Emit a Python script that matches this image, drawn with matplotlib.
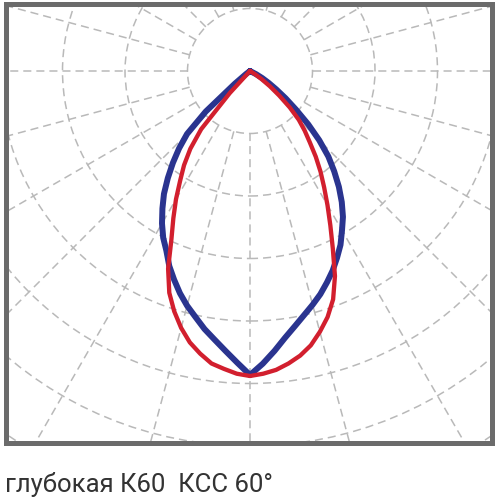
import numpy as np
import matplotlib
matplotlib.use("Agg")
import matplotlib.pyplot as plt
from matplotlib.patches import Circle

# ---- data (luminous intensity, arbitrary units; grid ring step = 62.5) ----
# angle from nadir in degrees, negative = left half, positive = right half
angles_deg = [-90, -87.5, -85, -82.5, -80, -77.5, -75, -72.5, -70, -67.5, -65, -62.5,
              -60, -57.5, -55, -52.5, -50, -47.5, -45, -42.5, -40, -37.5, -35, -32.5,
              -30, -27.5, -25, -22.5, -20, -17.5, -15, -12.5, -10, -7.5, -5, -2.5,
              0, 2.5, 5, 7.5, 10, 12.5, 15, 17.5, 20, 22.5, 25, 27.5,
              30, 32.5, 35, 37.5, 40, 42.5, 45, 47.5, 50, 52.5, 55, 57.5,
              60, 62.5, 65, 67.5, 70, 72.5, 75, 77.5, 80, 82.5, 85, 87.5, 90]
blue_values = [0, 0, 0, 0, 0, 0, 0, 0, 0, 0, 0, 0,
               0, 0, 0, 5, 20, 60, 89, 105, 120, 135, 150, 163,
               176, 188, 198, 211, 222, 233, 243, 252, 262, 271, 281, 292,
               304, 293, 281, 269, 259, 250, 242, 234, 225, 216, 206, 196,
               184, 173, 160, 146, 131, 116, 98, 79, 60, 45, 32, 22,
               14, 7, 0, 0, 0, 0, 0, 0, 0, 0, 0, 0, 0]
red_values = [0, 0, 0, 0, 0, 0, 0, 0, 0, 0, 0, 0,
              0, 0, 0, 0, 0, 0, 0, 30, 76, 98, 115, 130,
              148, 166, 186, 214, 236, 252, 266, 278, 287, 295, 299, 303,
              305, 303, 300, 295, 289, 281, 270, 258, 243, 222, 196, 174,
              155, 138, 123, 108, 93, 81, 69, 54, 38, 25, 14, 6,
              0, 0, 0, 0, 0, 0, 0, 0, 0, 0, 0, 0, 0]
ring_step = 62.5
ring_count = 8
radial_step_deg = 15
caption = "глубокая К60  КСС 60°"

plt.rcParams['lines.scale_dashes'] = False
plt.rcParams['font.family'] = ['Roboto', 'DejaVu Sans']

fig = plt.figure(figsize=(5, 5), dpi=100)
ax = fig.add_axes([0.0116, 0.1134, 0.9718, 0.8782])
ax.set_xlim(-244.2, 241.7)
ax.set_ylim(-372.3, 66.8)
ax.set_aspect('equal', adjustable='box')
ax.set_xticks([])
ax.set_yticks([])
for sp in ax.spines.values():
    sp.set_color('#6b6b6b')
    sp.set_linewidth(3.6)

grid_color = '#b9b9b9'
dash = (0, (5.8, 3.6))
for k in range(1, ring_count + 1):
    ax.add_patch(Circle((0, 0), ring_step * k, fill=False, edgecolor=grid_color,
                        linewidth=1.1, linestyle=dash, zorder=1))
for a in np.arange(0, 360, radial_step_deg):
    t = np.deg2rad(a)
    r0, r1 = ring_step, ring_step * (ring_count + 1)
    ax.plot([r0 * np.sin(t), r1 * np.sin(t)], [-r0 * np.cos(t), -r1 * np.cos(t)],
            color=grid_color, linewidth=1.1, linestyle=dash, zorder=1)

th = np.deg2rad(np.array(angles_deg))
b = np.array(blue_values, dtype=float)
r = np.array(red_values, dtype=float)
ax.plot(b * np.sin(th), -b * np.cos(th), color='#2a348f', linewidth=4.3,
        solid_joinstyle='round', solid_capstyle='round', zorder=3)
ax.plot(r * np.sin(th), -r * np.cos(th), color='#d21f2e', linewidth=3.1,
        solid_joinstyle='round', solid_capstyle='round', zorder=4)

fig.text(0.01, 0.016, caption, fontsize=18.5, color='#333333',
         ha='left', va='baseline')

fig.savefig('out.png', dpi=100, facecolor='white')
